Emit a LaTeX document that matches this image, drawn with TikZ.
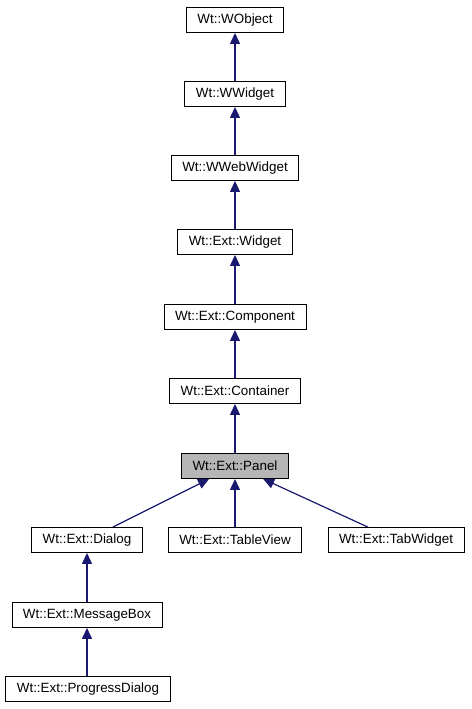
\documentclass[tikz,border=0pt]{standalone}
\usepackage{fontspec}
\setmainfont{Liberation Sans}
\usepackage[svgnames]{xcolor}
\usepackage{tikz}
\usetikzlibrary{arrows.meta}
\pgfdeclarelayer{edgelayer}
\pgfdeclarelayer{nodelayer}
\pgfsetlayers{edgelayer,nodelayer,main}
\tikzset{
	class/.style={draw=black, fill=white, line width=0.9pt, inner xsep=11pt, inner ysep=0pt,
		minimum height=25pt, font=\fontsize{13.4}{15}\selectfont},
	current/.style={class, fill=Silver!95!black},
	inherit/.style={draw=MidnightBlue, line width=1.2pt,
		-{Triangle[length=11pt,width=10pt]}}
}
\begin{document}
\begin{tikzpicture}[x=1pt, y=-1pt]
	\useasboundingbox (0, 0) rectangle (471, 709);
	\begin{pgfonlayer}{nodelayer}
		\node [style=class] (0) at (235, 20) {Wt::WObject};
		\node [style=class] (1) at (235, 94) {Wt::WWidget};
		\node [style=class] (2) at (235, 168) {Wt::WWebWidget};
		\node [style=class] (3) at (235, 242) {Wt::Ext::Widget};
		\node [style=class] (4) at (235, 317) {Wt::Ext::Component};
		\node [style=class] (5) at (235, 391) {Wt::Ext::Container};
		\node [style=current] (6) at (235, 466) {Wt::Ext::Panel};
		\node [style=class] (7) at (87, 540) {Wt::Ext::Dialog};
		\node [style=class] (8) at (235, 540) {Wt::Ext::TableView};
		\node [style=class] (9) at (396, 540) {Wt::Ext::TabWidget};
		\node [style=class] (10) at (87, 615) {Wt::Ext::MessageBox};
		\node [style=class] (11) at (88, 689) {Wt::Ext::ProgressDialog};
	\end{pgfonlayer}
	\begin{pgfonlayer}{edgelayer}
		\draw [style=inherit] (1) to (0);
		\draw [style=inherit] (2) to (1);
		\draw [style=inherit] (3) to (2);
		\draw [style=inherit] (4) to (3);
		\draw [style=inherit] (5) to (4);
		\draw [style=inherit] (6) to (5);
		\draw [style=inherit] (7) to (6);
		\draw [style=inherit] (8) to (6);
		\draw [style=inherit] (9) to (6);
		\draw [style=inherit] (10) to (7);
		\draw [style=inherit] (11.north -| 10) to (10);
	\end{pgfonlayer}
\end{tikzpicture}
\end{document}
